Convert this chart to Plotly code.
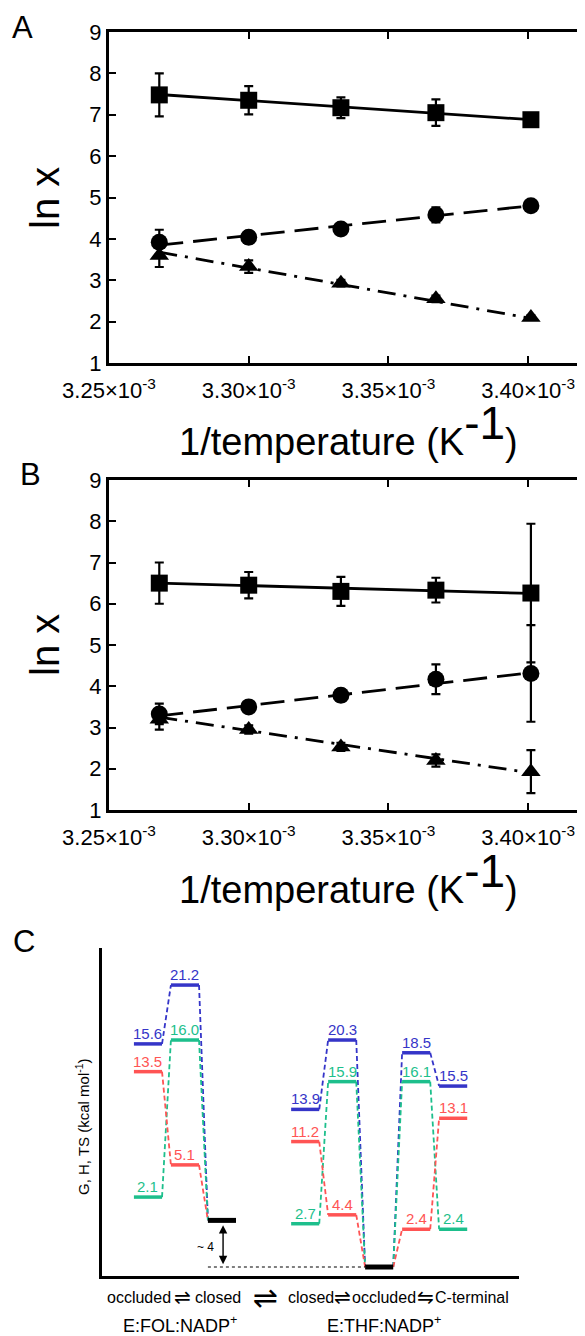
import plotly.graph_objects as go

W, H = 585, 1336
OFF = 8  # the page body margin shifts the figure by this many pixels
FONT = "Liberation Sans, Arial, DejaVu Sans, sans-serif"

# ---- panels A and B: ln x against 1/T ----
inv_temp = [3.268e-3, 3.300e-3, 3.333e-3, 3.367e-3, 3.401e-3]
fit_x = [3.268e-3, 3.401e-3]
x_ticks = [3.25e-3, 3.30e-3, 3.35e-3, 3.40e-3]
x_tick_text = ["3.25×10<sup>-3</sup>", "3.30×10<sup>-3</sup>",
               "3.35×10<sup>-3</sup>", "3.40×10<sup>-3</sup>"]

a_sq = [7.48, 7.35, 7.17, 7.05, 6.88]
a_sq_err = [0.52, 0.34, 0.25, 0.32, 0.10]
a_ci = [3.92, 4.04, 4.24, 4.58, 4.80]
a_ci_err = [0.30, 0.15, 0.10, 0.18, 0.05]
a_tr = [3.60, 3.33, 2.93, 2.55, 2.10]
a_tr_err = [0.28, 0.15, 0.08, 0.08, 0.05]
a_sq_fit = [7.49, 6.88]
a_ci_fit = [3.85, 4.80]
a_tr_fit = [3.68, 2.08]

b_sq = [6.50, 6.45, 6.30, 6.33, 6.26]
b_sq_err = [0.50, 0.32, 0.35, 0.30, 1.68]
b_ci = [3.33, 3.50, 3.78, 4.17, 4.31]
b_ci_err = [0.25, 0.12, 0.15, 0.36, 1.17]
b_tr = [3.20, 2.95, 2.53, 2.20, 1.93]
b_tr_err = [0.25, 0.10, 0.10, 0.15, 0.52]
b_sq_fit = [6.50, 6.25]
b_ci_fit = [3.28, 4.33]
b_tr_fit = [3.25, 1.90]

# ---- panel C: energy diagram ----
# states: E:FOL:NADP+ occluded, TS, closed | E:THF:NADP+ closed, TS, occluded, TS, C-terminal
state_x = [1, 2, 3, 5.25, 6.25, 7.25, 8.25, 9.25]
groups = [[0, 1, 2], [3, 4, 5, 6, 7]]
blue_h = [20.1, 25.4, None, 14.2, 20.45, None, 19.3, 16.3]
green_h = [6.3, 20.45, None, 3.9, 16.7, None, 16.7, 3.4]
red_h = [17.6, 9.2, None, 11.3, 4.7, None, 3.4, 13.4]
black_h = [None, None, 4.2, None, None, 0.0, None, None]
blue_lab = [15.6, 21.2, None, 13.9, 20.3, None, 18.5, 15.5]
green_lab = [2.1, 16.0, None, 2.7, 15.9, None, 16.1, 2.4]
red_lab = [13.5, 5.1, None, 11.2, 4.4, None, 2.4, 13.1]

BLUE, GREEN, RED = "#3535C8", "#1DBF8C", "#FF5454"
HW = 0.38

fig = go.Figure()


def add_series(xa, ya, y, err, fit, symbol, size, dash):
    fig.add_trace(go.Scatter(x=fit_x, y=fit, mode="lines", xaxis=xa, yaxis=ya,
                             line=dict(color="black", width=2.8, dash=dash),
                             showlegend=False))
    fig.add_trace(go.Scatter(x=inv_temp, y=y, mode="markers", xaxis=xa, yaxis=ya,
                             marker=dict(symbol=symbol, size=size, color="black"),
                             error_y=dict(type="data", array=err, color="black",
                                          thickness=2.2, width=4.5),
                             showlegend=False))


for xa, ya, data in [("x", "y", [(a_sq, a_sq_err, a_sq_fit), (a_ci, a_ci_err, a_ci_fit),
                                 (a_tr, a_tr_err, a_tr_fit)]),
                     ("x2", "y2", [(b_sq, b_sq_err, b_sq_fit), (b_ci, b_ci_err, b_ci_fit),
                                   (b_tr, b_tr_err, b_tr_fit)])]:
    add_series(xa, ya, *data[0], "square", 17, "solid")
    add_series(xa, ya, *data[1], "circle", 17, "24px,10px")
    add_series(xa, ya, *data[2], "triangle-up", 17, "18px,8px,3px,8px")

# connectors and levels of panel C
for heights, color in [(blue_h, BLUE), (green_h, GREEN), (red_h, RED)]:
    full = [h if h is not None else black_h[i] for i, h in enumerate(heights)]
    cx, cy = [], []
    for g in groups:
        for i, j in zip(g[:-1], g[1:]):
            cx += [state_x[i] + HW, state_x[j] - HW, None]
            cy += [full[i], full[j], None]
    fig.add_trace(go.Scatter(x=cx, y=cy, mode="lines", xaxis="x3", yaxis="y3",
                             line=dict(color=color, width=1.8, dash="5px,3px"),
                             showlegend=False))

for heights, color, width in [(blue_h, BLUE, 3.5), (green_h, GREEN, 3.5), (red_h, RED, 3.5),
                              (black_h, "black", 5)]:
    lx, ly = [], []
    for i, h in enumerate(heights):
        if h is None:
            continue
        lx += [state_x[i] - HW, state_x[i] + HW, None]
        ly += [h, h, None]
    fig.add_trace(go.Scatter(x=lx, y=ly, mode="lines", xaxis="x3", yaxis="y3",
                             line=dict(color=color, width=width), showlegend=False))

# dotted reference line
fig.add_trace(go.Scatter(x=[state_x[2] - HW, state_x[5] - HW], y=[black_h[5], black_h[5]],
                         mode="lines", xaxis="x3", yaxis="y3",
                         line=dict(color="black", width=1.2, dash="dot"), showlegend=False))

ann = []
for heights, labs, color in [(blue_h, blue_lab, BLUE), (green_h, green_lab, GREEN),
                             (red_h, red_lab, RED)]:
    for i, (h, v) in enumerate(zip(heights, labs)):
        if h is None:
            continue
        ann.append(dict(x=state_x[i], y=h, xref="x3", yref="y3", text=f"{v:.1f}",
                        showarrow=False, yanchor="bottom", yshift=0,
                        font=dict(size=15, color=color, family=FONT)))

# ~4 double arrow
ann.append(dict(x=3.03, y=0.25, ax=3.03, ay=3.9, xref="x3", yref="y3", axref="x3", ayref="y3",
                text="", showarrow=True, arrowhead=2, arrowside="end+start",
                arrowwidth=1.4, arrowsize=1.2, arrowcolor="black"))
ann.append(dict(x=2.55, y=1.8, xref="x3", yref="y3", text="~ 4", showarrow=False,
                font=dict(size=12, color="black", family=FONT)))


def fx(px):
    return (px - OFF) / W


def fy(py):
    return 1 - (py - OFF) / H


def text_at(px, py, s, size, angle=0, yanchor="middle"):
    ann.append(dict(x=fx(px), y=fy(py), xref="paper", yref="paper", text=s, showarrow=False,
                    textangle=angle, xanchor="center", yanchor=yanchor,
                    font=dict(size=size, color="black", family=FONT)))


text_at(22, OFF, "A", 31, yanchor="top")
text_at(30, 474, "B", 31)
text_at(24, 941, "C", 31)
text_at(45, 198, "ln x", 40, -90)
text_at(45, 645, "ln x", 40, -90)
k_title = "1/temperature (K<sup><span style='font-size:46px'>-1</span></sup>)"
text_at(348, 430, k_title, 38)
text_at(348, 878, k_title, 38)
text_at(82, 1127, "G, H, TS (kcal mol<sup>-1</sup>)", 15, -90)

row1 = [(139, "occluded", 16), (182, "⇌", 20), (218, "closed", 16), (265, "⇌", 30),
        (311, "closed", 16), (342, "⇌", 20), (384, "occluded", 16), (425, "⇋", 20),
        (472, "C-terminal", 16)]
for px, s, size in row1:
    text_at(px, 1297, s, size)
text_at(180, 1324, "E:FOL:NADP<sup>+</sup>", 18)
text_at(384, 1324, "E:THF:NADP<sup>+</sup>", 18)

frame = dict(showline=True, linewidth=3, linecolor="black", mirror="ticks",
             ticks="inside", ticklen=7, tickwidth=2, tickcolor="black",
             showgrid=False, zeroline=False, automargin=False,
             tickfont=dict(size=22, color="black", family=FONT))
bare = dict(showline=True, linewidth=3, linecolor="black", showticklabels=False,
            ticks="", showgrid=False, zeroline=False, automargin=False)

xdom = [fx(109), fx(584)]
fig.update_layout(
    width=W, height=H, autosize=False,
    margin=dict(l=0, r=0, t=0, b=0, pad=0, autoexpand=False),
    paper_bgcolor="white", plot_bgcolor="white", showlegend=False,
    xaxis=dict(domain=xdom, range=[3.25e-3, 3.42e-3], tickvals=x_ticks,
               ticktext=x_tick_text, anchor="y", ticklabelstandoff=6, **frame),
    yaxis=dict(domain=[fy(363), fy(32)], range=[1, 9], dtick=1, anchor="x", **frame),
    xaxis2=dict(domain=xdom, range=[3.25e-3, 3.42e-3], tickvals=x_ticks,
                ticktext=x_tick_text, anchor="y2", ticklabelstandoff=6, **frame),
    yaxis2=dict(domain=[fy(810), fy(480)], range=[1, 9], dtick=1, anchor="x2", **frame),
    xaxis3=dict(domain=[fx(102), fx(519)], range=[-0.243, 11.03], anchor="y3", **bare),
    yaxis3=dict(domain=[fy(1276), fy(948)], range=[-0.81, 28.74], anchor="x3", **bare),
    annotations=ann,
)

fig.write_html("out.html")
